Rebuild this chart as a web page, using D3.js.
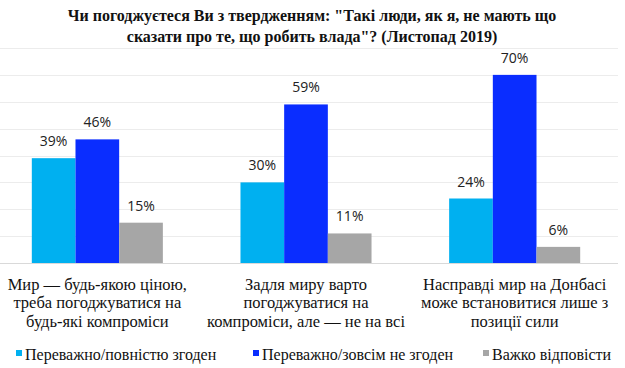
<!DOCTYPE html>
<html>
<head>
<meta charset="utf-8">
<script src="https://cdn.jsdelivr.net/npm/d3@7"></script>
</head>
<body style="margin:0">
<div id="wrap" style="position:relative;width:625px;height:368px">
<svg id="chart" width="625" height="368" style="position:absolute;left:0;top:0"></svg>
</div>
<script>
const categories = [
    ['Мир — будь-якою ціною,', 'треба погоджуватися на', 'будь-які компроміси'],
    ['Задля миру варто', 'погоджуватися на', 'компроміси, але — не на всі'],
    ['Насправді мир на Донбасі', 'може встановитися лише з', 'позиції сили']
]
const seriesNames = ['Переважно/повністю згоден', 'Переважно/зовсім не згоден', 'Важко відповісти']
const agree = [39, 30, 24]
const disagree = [46, 59, 70]
const hard = [15, 11, 6]
const gridTicks = [0, 10, 20, 30, 40, 50, 60, 70, 80]
const titleLines = [
    'Чи погоджуєтеся Ви з твердженням: "Такі люди, як я, не мають що',
    'сказати про те, що робить влада"? (Листопад 2019)'
]

const colors = ['#00b0f0', '#0a2dff', '#a6a6a6']
const seriesValues = [agree, disagree, hard]
const sans = 'Open Sans'
// legend item left edges (layout)
const legendX = [16, 253, 483]

const plot = { left: -7, right: 619, top: 48, bottom: 263 }

const svg = d3.select('#chart')
const wrap = d3.select('#wrap')

// serif labels as html text laid over the svg
function htmlLabel(left, top, width, size, align, weight) {
    return wrap.append('div')
        .style('position', 'absolute')
        .style('left', left + 'px')
        .style('top', top + 'px')
        .style('width', width + 'px')
        .style('text-align', align)
        .style('white-space', 'nowrap')
        .style('font-family', "'Liberation Serif', serif")
        .style('font-size', size + 'px')
        .style('font-weight', weight || 'normal')
        .style('color', '#111')
}

const x0 = d3.scaleBand()
    .domain(d3.range(categories.length))
    .range([plot.left, plot.right])
    .paddingInner(0.372)
    .paddingOuter(0.186)

const x1 = d3.scaleBand()
    .domain(d3.range(seriesNames.length))
    .range([0, x0.bandwidth()])

const y = d3.scaleLinear()
    .domain([0, 80])
    .range([plot.bottom, plot.top])

// gridlines
svg.append('g')
    .selectAll('line')
    .data(gridTicks.slice(1))
    .enter().append('line')
    .attr('x1', 0)
    .attr('x2', 618)
    .attr('y1', d => Math.round(y(d)) + 0.5)
    .attr('y2', d => Math.round(y(d)) + 0.5)
    .attr('stroke', '#ececec')

// title
htmlLabel(0, 5, 624, 16, 'center', 'bold')
    .style('line-height', '21px')
    .selectAll('div')
    .data(titleLines)
    .enter().append('div')
    .text(d => d)

// bars
const groups = svg.selectAll('.group')
    .data(categories)
    .enter().append('g')
    .attr('class', 'group')
    .attr('transform', (d, i) => `translate(${x0(i)},0)`)

groups.selectAll('rect')
    .data((d, i) => seriesValues.map((s, j) => ({ s: j, v: s[i] })))
    .enter().append('rect')
    .attr('x', d => x1(d.s))
    .attr('width', x1.bandwidth())
    .attr('y', d => y(d.v))
    .attr('height', d => y(0) - y(d.v))
    .attr('fill', d => colors[d.s])

groups.selectAll('.val')
    .data((d, i) => seriesValues.map((s, j) => ({ s: j, v: s[i] })))
    .enter().append('text')
    .attr('class', 'val')
    .attr('x', d => x1(d.s) + x1.bandwidth() / 2)
    .attr('y', d => y(d.v) - 12)
    .attr('text-anchor', 'middle')
    .attr('font-family', sans)
    .attr('font-size', 14)
    .attr('fill', '#222')
    .text(d => d.v + '%')

// baseline
svg.append('line')
    .attr('x1', 0)
    .attr('x2', 618)
    .attr('y1', y(0) + 0.5)
    .attr('y2', y(0) + 0.5)
    .attr('stroke', '#d9d9d9')

// category labels
categories.forEach((lines, i) => {
    const cx = x0(i) + x0.bandwidth() / 2
    htmlLabel(cx - 110, 275.7, 220, 16.5, 'center')
        .style('line-height', '18.5px')
        .selectAll('div')
        .data(lines)
        .enter().append('div')
        .text(t => t)
})

// legend
const items = svg.selectAll('.legend')
    .data(seriesNames)
    .enter().append('g')
    .attr('class', 'legend')
    .attr('transform', (d, i) => `translate(${legendX[i]},0)`)

items.append('rect')
    .attr('width', 6)
    .attr('height', 6)
    .attr('y', 350)
    .attr('fill', (d, i) => colors[i])

seriesNames.forEach((name, i) => {
    htmlLabel(legendX[i] + 9, 345.6, 200, 16, 'left')
        .style('line-height', '18px')
        .text(name)
})
</script>
</body>
</html>
